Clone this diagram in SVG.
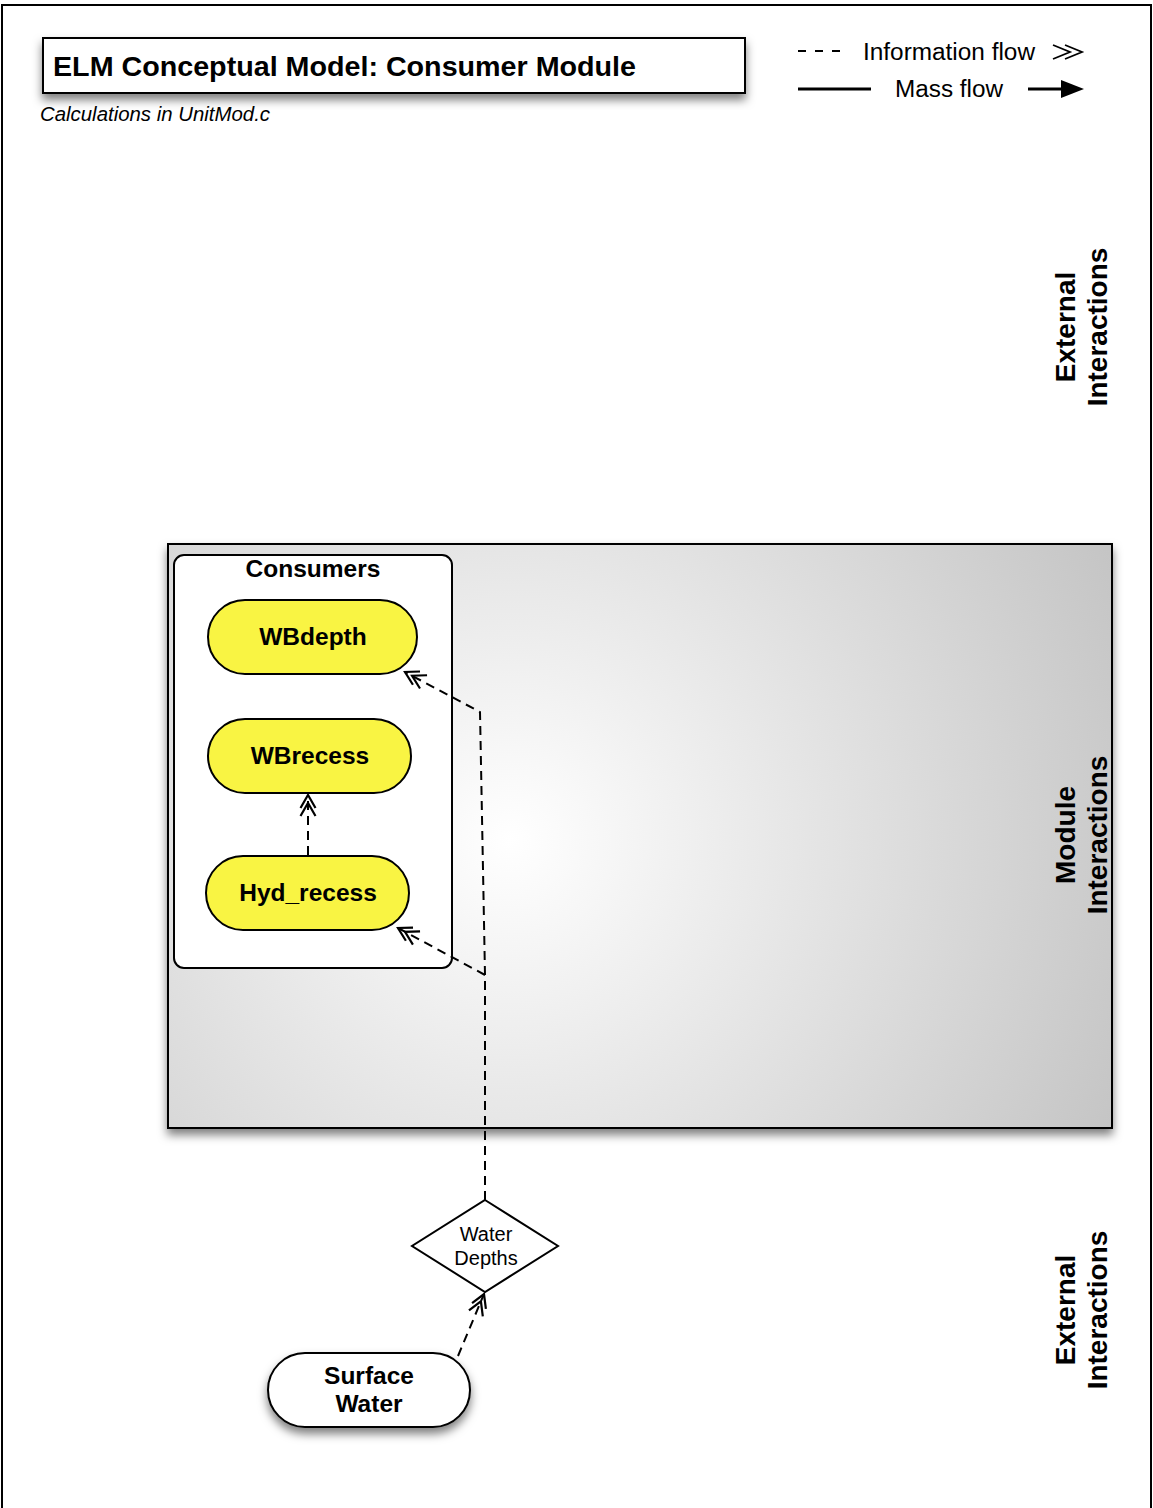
<svg xmlns="http://www.w3.org/2000/svg" width="1153" height="1508" viewBox="0 0 1153 1508">
<style>
.bold{font-family:"Liberation Sans",Arial,sans-serif;font-weight:bold;fill:#000}
.reg{font-family:"Liberation Sans",Arial,sans-serif;fill:#000}
.info{fill:none;stroke:#000;stroke-width:2;stroke-dasharray:9 6}
.pill{fill:#f9f443;stroke:#000;stroke-width:2}
.side{font-family:"Liberation Sans",Arial,sans-serif;font-weight:bold;font-size:28px;text-anchor:middle}
</style>
<defs>
<radialGradient id="bg" gradientUnits="userSpaceOnUse" cx="510" cy="840" r="700">
<stop offset="0" stop-color="#ffffff"/>
<stop offset="1" stop-color="#c2c2c2"/>
</radialGradient>
<filter id="sh" x="-10%" y="-20%" width="125%" height="150%">
<feDropShadow dx="0" dy="6" stdDeviation="5" flood-color="#000" flood-opacity="0.5"/>
</filter>
<marker id="dbl" markerUnits="userSpaceOnUse" markerWidth="26" markerHeight="20" refX="22" refY="9" orient="auto" overflow="visible">
<path d="M9,1.5 L22,9 L9,16.5 M1,1.5 L14,9 L1,16.5" fill="none" stroke="#000" stroke-width="2.2"/>
</marker>
<marker id="tri" markerUnits="userSpaceOnUse" markerWidth="24" markerHeight="20" refX="0" refY="9" orient="auto" overflow="visible">
<path d="M0,0 L23,9 L0,18 Z" fill="#000"/>
</marker>
</defs>
<rect x="2" y="5" width="1149" height="1510" fill="#fff" stroke="#000" stroke-width="2"/>

<g id="title">
<rect x="43" y="38" width="702" height="55" fill="#fff" stroke="#000" stroke-width="2" filter="url(#sh)"/>
<text class="bold" x="53" y="76" font-size="28" textLength="583" lengthAdjust="spacingAndGlyphs">ELM Conceptual Model: Consumer Module</text>
<text class="reg" x="40" y="121" font-size="20" font-style="italic" textLength="230" lengthAdjust="spacingAndGlyphs">Calculations in UnitMod.c</text>
</g>

<g id="legend">
<line x1="798" y1="51" x2="842" y2="51" stroke="#000" stroke-width="1.8" stroke-dasharray="8 9"/>
<text class="reg" x="863" y="60" font-size="23.5" textLength="172" lengthAdjust="spacingAndGlyphs">Information flow</text>
<path d="M1053,45 L1070,52 L1053,59 M1065,45 L1082,52 L1065,59" fill="none" stroke="#000" stroke-width="1.8"/>
<line x1="798" y1="89" x2="871" y2="89" stroke="#000" stroke-width="3"/>
<text class="reg" x="895" y="97" font-size="23.5" textLength="108" lengthAdjust="spacingAndGlyphs">Mass flow</text>
<line x1="1028" y1="89" x2="1061" y2="89" stroke="#000" stroke-width="3" marker-end="url(#tri)"/>
</g>

<g id="module">
<rect x="168" y="544" width="944" height="584" fill="url(#bg)" stroke="#000" stroke-width="2" filter="url(#sh)"/>
</g>

<g id="labels">
<text class="side" transform="translate(1075,327) rotate(-90)">External</text>
<text class="side" transform="translate(1107,327) rotate(-90)">Interactions</text>
<text class="side" transform="translate(1075,835) rotate(-90)">Module</text>
<text class="side" transform="translate(1107,835) rotate(-90)">Interactions</text>
<text class="side" transform="translate(1075,1310) rotate(-90)">External</text>
<text class="side" transform="translate(1107,1310) rotate(-90)">Interactions</text>
</g>

<g id="consumers">
<rect x="174" y="555" width="278" height="413" rx="10" fill="#fff" stroke="#000" stroke-width="2"/>
<text class="bold" x="313" y="577" font-size="24.5" text-anchor="middle">Consumers</text>
</g>

<g id="wbdepth">
<rect class="pill" x="208" y="600" width="209" height="74" rx="37"/>
<text class="bold" x="313" y="645" font-size="24.5" text-anchor="middle">WBdepth</text>
</g>
<g id="wbrecess">
<rect class="pill" x="208" y="719" width="203" height="74" rx="37"/>
<text class="bold" x="310" y="764" font-size="24.5" text-anchor="middle">WBrecess</text>
</g>
<g id="hyd_recess">
<rect class="pill" x="206" y="856" width="203" height="74" rx="37"/>
<text class="bold" x="308" y="901" font-size="24.5" text-anchor="middle">Hyd_recess</text>
</g>

<g id="water_depths">
<polygon points="485,1200 558,1246 485,1292 412,1246" fill="#fff" stroke="#000" stroke-width="2"/>
<text class="reg" x="486" y="1241" font-size="20" text-anchor="middle">Water</text>
<text class="reg" x="486" y="1265" font-size="20" text-anchor="middle">Depths</text>
</g>

<g id="surface_water">
<rect x="268" y="1353" width="202" height="74" rx="37" fill="#fff" stroke="#000" stroke-width="2" filter="url(#sh)"/>
<text class="bold" x="369" y="1384" font-size="24.5" text-anchor="middle">Surface</text>
<text class="bold" x="369" y="1412" font-size="24.5" text-anchor="middle">Water</text>
</g>

<g id="connectors">
<path class="info" d="M485,1200 L485,975 L398,928" marker-end="url(#dbl)"/>
<path class="info" d="M485,975 L480,712 L405,672" marker-end="url(#dbl)"/>
<path class="info" d="M308,855 L308,795" marker-end="url(#dbl)"/>
<path class="info" d="M458,1356 L484,1294" marker-end="url(#dbl)"/>
</g>
</svg>
